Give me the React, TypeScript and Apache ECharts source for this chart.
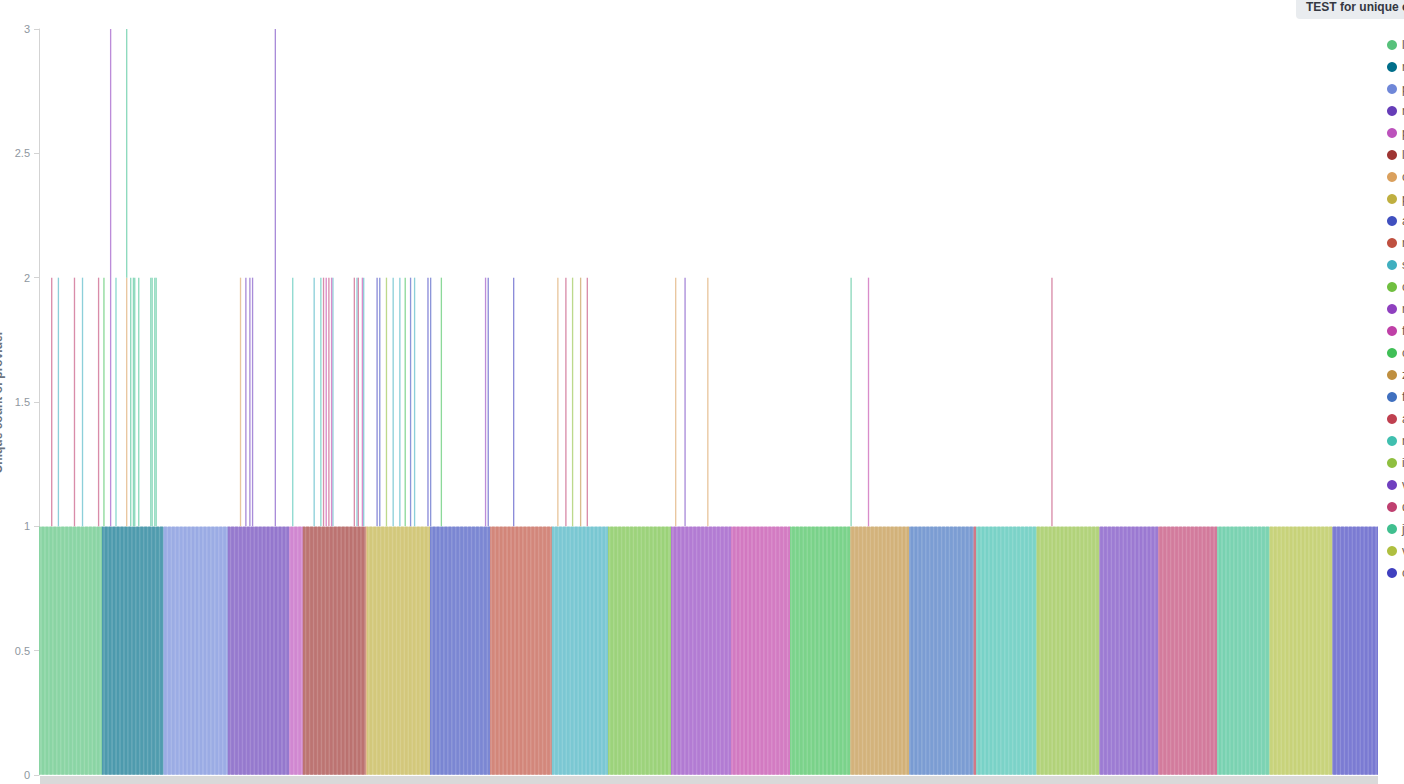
import React, { useEffect, useRef } from 'react';
import * as echarts from 'echarts';

const seriesNames = [
  'logstash', 'nginx', 'postgres', 'network', 'php', 'loki', 'cron', 'proxy', 'apache', 'nodejs',
  'syslog', 'couchdb', 'mysql', 'filebeat', 'consul', 'zookeeper', 'fluentd', 'auditd', 'netflow', 'iis',
  'varnish', 'docker', 'jenkins', 'vault', 'cassandra',
];
const seriesColors = [
  '#57c17b', '#006e8a', '#6f87d8', '#663db8', '#bc52bc', '#9e3533', '#daa05d', '#bfaf40', '#4050bf', '#bf5040',
  '#40afbf', '#70bf40', '#8f40bf', '#bf40a7', '#40bf57', '#bf8f40', '#4070bf', '#bf4050', '#40bfaf', '#8fbf40',
  '#7040bf', '#bf4070', '#40bf8f', '#afbf40', '#4040bf',
];
// number of consecutive x buckets (value 1) belonging to each series, in x order
const blockCounts = [47, 46, 48, 46, 10, 47, 1, 47, 45, 46, 42, 47, 45, 44, 45, 44, 48, 2, 45, 47, 44, 44, 39, 47, 34];
// extra stacked segments: [bucket index, series index, value]
const spikes: [number, number, number][] = [
  [9, 21, 1], [14, 10, 1], [26, 21, 1], [32, 10, 1], [44, 21, 1], [48, 14, 1], [53, 12, 2], [57, 18, 1],
  [65, 6, 1], [65, 22, 1], [68, 22, 1], [70, 22, 1], [71, 22, 1], [74, 22, 1], [83, 22, 1], [84, 22, 1],
  [86, 22, 1], [87, 22, 1], [150, 6, 1], [154, 20, 1], [157, 20, 1], [159, 20, 1], [176, 20, 2], [189, 18, 1],
  [205, 10, 1], [210, 18, 1], [212, 21, 1], [214, 13, 1], [216, 21, 1], [218, 13, 1], [219, 10, 1], [235, 21, 1],
  [237, 10, 1], [238, 21, 1], [241, 13, 1], [242, 10, 1], [252, 24, 1], [254, 8, 1], [259, 19, 1], [264, 10, 1],
  [269, 10, 1], [273, 14, 1], [277, 8, 1], [280, 10, 1], [290, 24, 1], [292, 8, 1], [300, 14, 1], [333, 12, 1],
  [335, 24, 1], [354, 24, 1], [387, 6, 1], [393, 21, 1], [398, 19, 1], [404, 15, 1], [409, 21, 1], [475, 6, 1],
  [482, 20, 1], [499, 6, 1], [606, 22, 1], [619, 13, 1], [756, 21, 1],
];
const yTicks = [0, 0.5, 1, 1.5, 2, 2.5, 3];
const titleText = 'TEST for unique count of provider';
const yAxisName = 'Unique count of provider';

function tint(hex: string, a: number) {
  const n = parseInt(hex.slice(1), 16);
  const r = (n >> 16) & 255, g = (n >> 8) & 255, b = n & 255;
  const m = (c: number) => Math.round(c * a + 255 * (1 - a));
  return `rgb(${m(r)},${m(g)},${m(b)})`;
}

export default function App() {
  const ref = useRef<HTMLDivElement>(null);
  useEffect(() => {
    document.body.style.margin = '0';
    const chart = echarts.init(ref.current!, null, { renderer: 'svg' });
    const total = blockCounts.reduce((a, b) => a + b, 0);
    const categories = Array.from({ length: total }, (_, i) => String(i));
    const series: any[] = [];
    let start = 0;
    blockCounts.forEach((count, s) => {
      const data: (number | null)[] = new Array(total).fill(null);
      for (let i = start; i < start + count; i++) data[i] = 1;
      start += count;
      const c = tint(seriesColors[s], 0.7);
      series.push({
        type: 'bar', name: seriesNames[s], stack: 'total', data,
        barCategoryGap: '0%',
        itemStyle: { color: c, borderColor: c, borderWidth: 1 },
        emphasis: { disabled: true },
      });
    });
    const spikeSeriesIdx = Array.from(new Set(spikes.map((p) => p[1]))).sort((a, b) => a - b);
    spikeSeriesIdx.forEach((s) => {
      const data: (number | null)[] = new Array(total).fill(null);
      spikes.filter((p) => p[1] === s).forEach((p) => { data[p[0]] = p[2]; });
      series.push({
        type: 'bar', name: seriesNames[s], stack: 'total', data,
        barCategoryGap: '0%',
        itemStyle: { color: tint(seriesColors[s], 0.6) },
        emphasis: { disabled: true },
      });
    });

    chart.setOption({
      animation: false,
      grid: { left: 39, right: 26, top: 29, bottom: 9, containLabel: false, outerBoundsMode: 'none' },
      legend: {
        orient: 'vertical', left: 1382, top: 34, icon: 'circle',
        itemWidth: 10, itemHeight: 10, itemGap: 10,
        itemStyle: { borderWidth: 0 },
        textStyle: { color: '#6a5a4a', fontSize: 12, lineHeight: 12, fontFamily: 'Liberation Sans, Arial, sans-serif' },
        data: seriesNames.map((n, i) => ({ name: n, itemStyle: { color: seriesColors[i], opacity: 1, borderWidth: 0 } })),
        selectedMode: false,
      },
      xAxis: {
        type: 'category', data: categories,
        axisLine: { show: false }, axisTick: { show: false }, axisLabel: { show: false },
      },
      yAxis: {
        type: 'value', min: yTicks[0], max: yTicks[yTicks.length - 1], interval: 0.5,
        name: yAxisName, nameLocation: 'middle', nameGap: 34,
        nameTextStyle: { color: '#6b7480', fontWeight: 'bold', fontSize: 12, fontFamily: 'Liberation Sans, Arial, sans-serif' },
        axisLine: { show: true, lineStyle: { color: '#d3d3d3', width: 1 } },
        axisTick: { show: true, length: 5, lineStyle: { color: '#d3d3d3' } },
        axisLabel: { color: '#8e97a0', fontSize: 11, margin: 9, fontFamily: 'Liberation Sans, Arial, sans-serif' },
        splitLine: { show: false },
      },
      graphic: [
        { type: 'rect', x: 40, y: 776, shape: { width: 1338, height: 12 }, style: { fill: '#d9d9d9' }, silent: true },
        {
          type: 'group', x: 1296, y: -6, children: [
            { type: 'rect', shape: { x: 0, y: 0, width: 220, height: 25, r: 4 }, style: { fill: '#e9ecef' } },
            { type: 'text', x: 10, y: 13, style: { text: titleText, fill: '#343741', font: 'bold 12px Liberation Sans, Arial, sans-serif', verticalAlign: 'middle' } },
          ],
        },
      ],
      series,
    });
    return () => chart.dispose();
  }, []);
  return <div ref={ref} style={{ width: 1404, height: 784 }} />;
}
